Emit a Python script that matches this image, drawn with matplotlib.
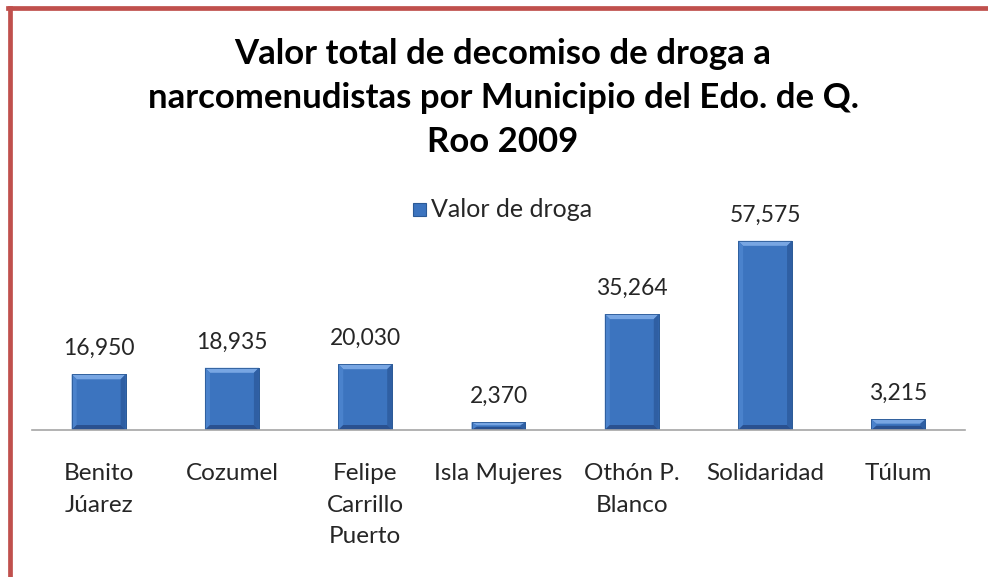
import matplotlib
matplotlib.use("Agg")
import matplotlib.pyplot as plt
import numpy as np
from matplotlib.patches import Rectangle, Polygon
from matplotlib.lines import Line2D

categories = ["Benito\nJúarez", "Cozumel", "Felipe\nCarrillo\nPuerto", "Isla Mujeres",
              "Othón P.\nBlanco", "Solidaridad", "Túlum"]
values = [16950, 18935, 20030, 2370, 35264, 57575, 3215]
series_name = "Valor de droga"
title = "Valor total de decomiso de droga a\nnarcomenudistas por Municipio del Edo. de Q.\nRoo 2009"

plt.rcParams['font.family'] = ['Lato', 'DejaVu Sans']

W, H = 988, 577
fig = plt.figure(figsize=(W/100, H/100), dpi=100)
fig.patch.set_facecolor("white")

# red border (left and top)
fig.add_artist(Line2D([9.5/W, 9.5/W], [0, 1 - 8/H], color="#C0504D", lw=3.4, transform=fig.transFigure))
fig.add_artist(Line2D([8/W, 1], [1 - 8/H, 1 - 8/H], color="#C0504D", lw=3.4, transform=fig.transFigure))

ax = fig.add_axes([32/W, 1 - 430/H, (965-32)/W, (430-200)/H])
ax.set_xlim(-0.5, len(categories) - 0.5)
ax.set_ylim(0, 70000)
x = np.arange(len(categories))
bars = ax.bar(x, values, width=0.405, color="#3C74BF", edgecolor="#2B5A97", linewidth=0.6, zorder=2)

# bevel effect
bx = 5 * (7.0 / 933)      # ~5 px in x data units
by_full = 5 * (70000 / 230)  # ~5 px in y data units
for b in bars:
    x0, w, h = b.get_x(), b.get_width(), b.get_height()
    x1 = x0 + w
    by = min(by_full, h * 0.4)
    bxx = min(bx, w * 0.4)
    ax.add_patch(Polygon([(x0, h), (x1, h), (x1 - bxx, h - by), (x0 + bxx, h - by)],
                         closed=True, facecolor="#78A6E3", edgecolor="none", zorder=3))
    ax.add_patch(Polygon([(x0, h), (x0 + bxx, h - by), (x0 + bxx, by), (x0, 0)],
                         closed=True, facecolor="#4A82CC", edgecolor="none", zorder=3))
    ax.add_patch(Polygon([(x1, h), (x1 - bxx, h - by), (x1 - bxx, by), (x1, 0)],
                         closed=True, facecolor="#2F5FA3", edgecolor="none", zorder=3))
    ax.add_patch(Polygon([(x0, 0), (x1, 0), (x1 - bxx, by), (x0 + bxx, by)],
                         closed=True, facecolor="#2A5190", edgecolor="none", zorder=3))
    ax.add_patch(Rectangle((x0, 0), w, h, facecolor="none", edgecolor="#2B5A97", lw=0.6, zorder=3.5))

for s in ["top", "right", "left"]:
    ax.spines[s].set_visible(False)
ax.spines["bottom"].set_color("#A6A6A6")
ax.spines["bottom"].set_linewidth(1.2)
ax.spines["bottom"].set_zorder(4)
ax.set_yticks([])
ax.set_xticks(x)
ax.set_xticklabels(categories, fontsize=17.5, color="#262626", linespacing=1.62)
ax.tick_params(axis="x", length=0, pad=24)

for xi, v in zip(x, values):
    ax.annotate(f"{v:,}", (xi, v), xytext=(0, 11), textcoords="offset points",
                ha="center", va="bottom", fontsize=16.5, color="#262626")

fig.text(503/W, 1 - 98/H, title, ha="center", va="center", fontsize=25, fontweight="bold",
         color="black", linespacing=1.47)

# legend
fig.patches.append(Rectangle((413/W, 1 - 216/H), 13/W, 13/H, transform=fig.transFigure,
                             facecolor="#3C74BF", edgecolor="#2B5A97", lw=0.8))
fig.text(431/W, 1 - 209/H, series_name, ha="left", va="center", fontsize=18, color="#262626")

fig.savefig("out.png", dpi=100, facecolor="white")
